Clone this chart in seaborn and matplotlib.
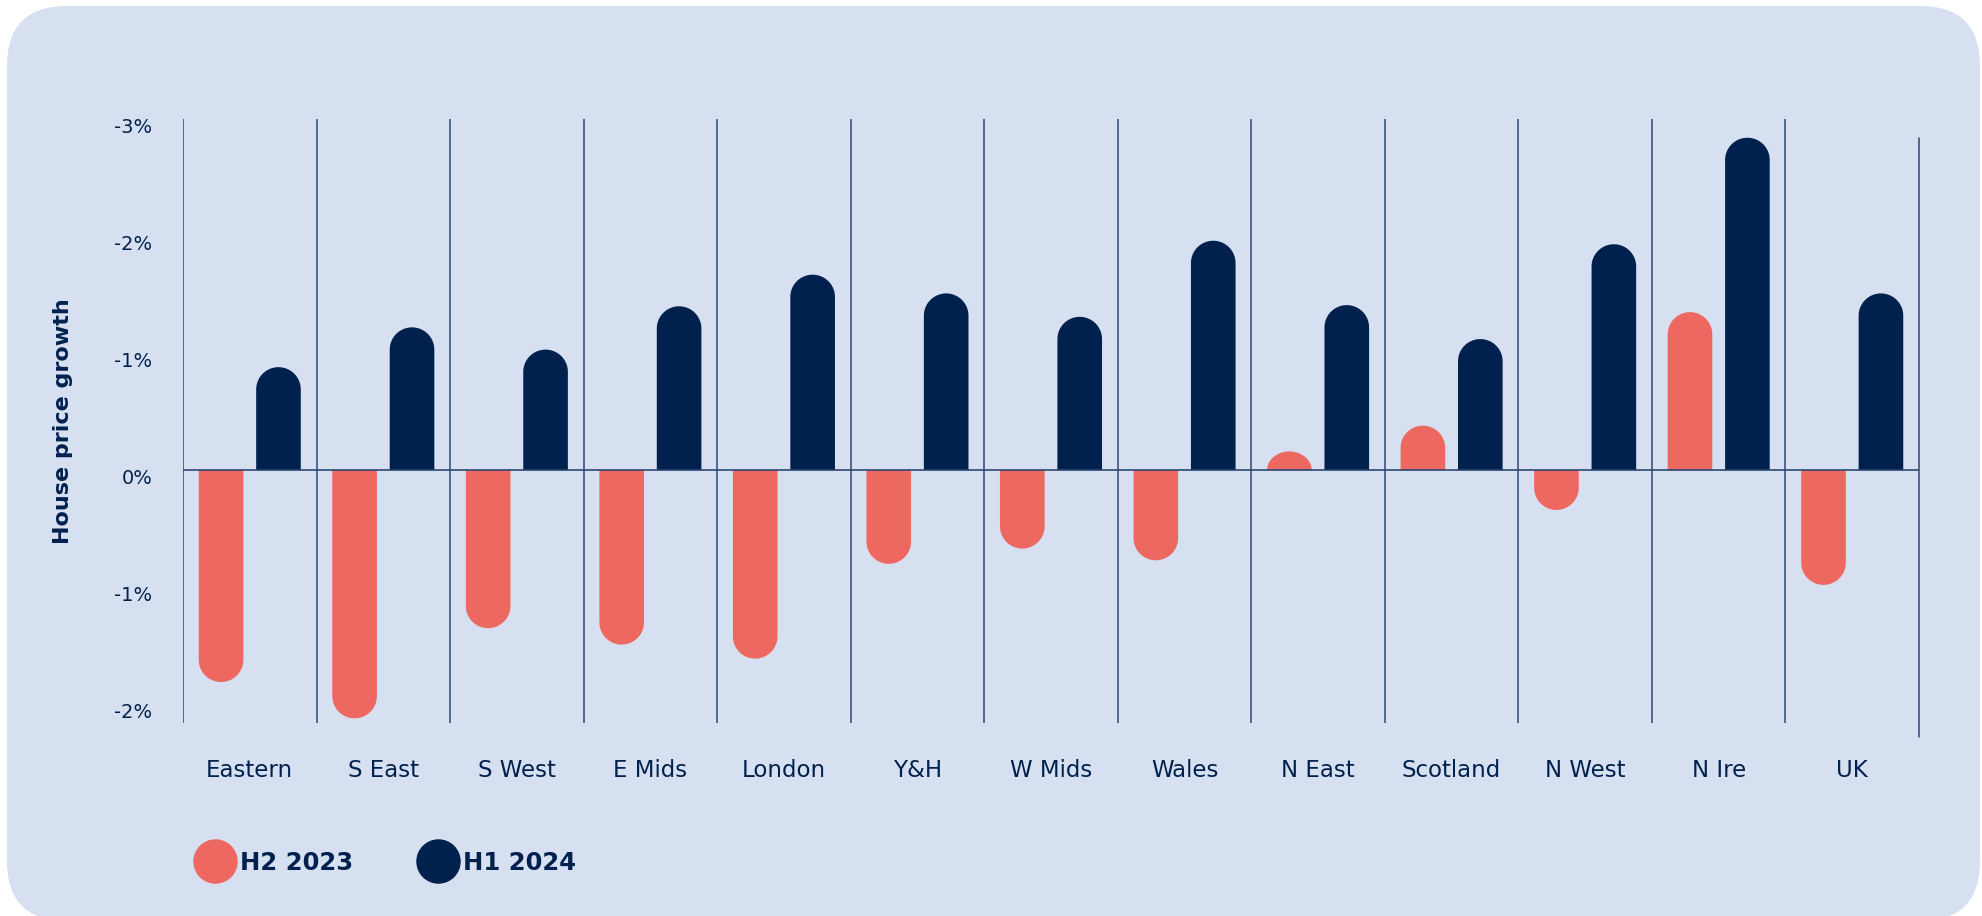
import numpy as np
import pandas as pd
import matplotlib
matplotlib.use('Agg')
import matplotlib.pyplot as plt
import matplotlib.transforms as mtransforms
from matplotlib.patches import Polygon, FancyBboxPatch
from matplotlib.lines import Line2D
import seaborn as sns

regions = ['Eastern', 'S East', 'S West', 'E Mids', 'London', 'Y&H', 'W Mids',
           'Wales', 'N East', 'Scotland', 'N West', 'N Ire', 'UK']
h2_2023 = [-1.81, -2.12, -1.35, -1.49, -1.61, -0.80, -0.67, -0.77, 0.16, 0.38, -0.34, 1.35, -0.98]
h1_2024 = [0.88, 1.22, 1.03, 1.40, 1.67, 1.51, 1.31, 1.96, 1.41, 1.12, 1.93, 2.84, 1.51]
periods = ['H2 2023', 'H1 2024']
ytick_vals = [3, 2, 1, 0, -1, -2]
ytick_labels = ['-3%', '-2%', '-1%', '0%', '-1%', '-2%']

red = '#ee6862'
navy = '#00214d'
line_col = '#2d4773'
card = '#d7e0f0'

df = pd.DataFrame({
    'region': regions * 2,
    'period': [periods[0]] * len(regions) + [periods[1]] * len(regions),
    'growth': h2_2023 + h1_2024,
})

sns.set_style('white')
plt.rcParams['font.family'] = ['DejaVu Sans']

W, H = 1982, 916
fig = plt.figure(figsize=(W / 100, H / 100), dpi=100)
fig.patch.set_facecolor('white')

# rounded background card (pixel coords)
bg = FancyBboxPatch((7, -5), 1973, 915, boxstyle='round,pad=0,rounding_size=60',
                    transform=None, fc=card, ec='none', zorder=-10)
bg.set_figure(fig)
fig.patches.append(bg)

ax_left, ax_right, ax_top, ax_bottom = 183, 1919, 119, 723
ax = fig.add_axes([ax_left / W, 1 - ax_bottom / H, (ax_right - ax_left) / W, (ax_bottom - ax_top) / H])
ax.set_facecolor('none')

sns.barplot(data=df, x='region', y='growth', hue='period', hue_order=periods,
            palette=[red, navy], width=0.86, gap=0.223, ax=ax, legend=False,
            linewidth=0, saturation=1, zorder=3)

ymin, ymax = -2.16, 2.98
ax.set_xlim(-0.5, len(regions) - 0.5)
ax.set_ylim(ymin, ymax)

# swap each bar for one with a rounded end
px_per_y = (ax_bottom - ax_top) / (ymax - ymin)
px_per_x = (ax_right - ax_left) / len(regions)
theta = np.linspace(np.pi, 0, 40)
for p in list(ax.patches):
    x0, w, h = p.get_x(), p.get_width(), p.get_height()
    col = p.get_facecolor()
    r = (w * px_per_x / 2) / px_per_y
    s = 1 if h > 0 else -1
    cx = x0 + w / 2
    if abs(h) > r:
        yc, ry = h - s * r, r
    else:
        yc, ry = 0, abs(h)
    arc_x = cx + (w / 2) * np.cos(theta)
    arc_y = yc + s * ry * np.sin(theta)
    xs = np.concatenate([[x0, x0], arc_x, [x0 + w, x0 + w]])
    ys = np.concatenate([[0, yc], arc_y, [yc, 0]])
    ax.add_patch(Polygon(np.column_stack([xs, ys]), closed=True, fc=col, ec='none', zorder=3))
    p.set_visible(False)

# separators and zero line
for i in range(len(regions)):
    ax.axvline(i - 0.5, color=line_col, lw=1.1, zorder=1)
ax.plot([len(regions) - 0.5] * 2, [-2.28, 2.84], color=line_col, lw=1.1, clip_on=False, zorder=1)
ax.axhline(0, color=line_col, lw=1.2, zorder=4)

for sp in ax.spines.values():
    sp.set_visible(False)

ax.set_yticks(ytick_vals)
ax.set_yticklabels(ytick_labels)
ax.tick_params(axis='y', length=0, pad=22, labelsize=14, labelcolor=navy)
ax.tick_params(axis='x', length=0, pad=26, labelsize=16.5, labelcolor=navy)
shift = mtransforms.ScaledTranslation(0, -0.065, fig.dpi_scale_trans)
for lbl in ax.get_yticklabels():
    lbl.set_transform(lbl.get_transform() + shift)
ax.set_xlabel('')
ax.set_ylabel('House price growth', fontsize=16, fontweight='bold', color=navy, labelpad=30)

handles = [Line2D([], [], marker='o', ls='', ms=31, color=c) for c in [red, navy]]
fig.legend(handles, periods, loc='center left', bbox_to_anchor=(193 / W, 1 - 863 / H),
           ncol=2, frameon=False, borderpad=0, borderaxespad=0, handlelength=1.8,
           handletextpad=0.12, columnspacing=2.6, prop={'size': 17.5, 'weight': 'bold'},
           labelcolor=navy)

fig.savefig('out.png', dpi=100, facecolor='white')
